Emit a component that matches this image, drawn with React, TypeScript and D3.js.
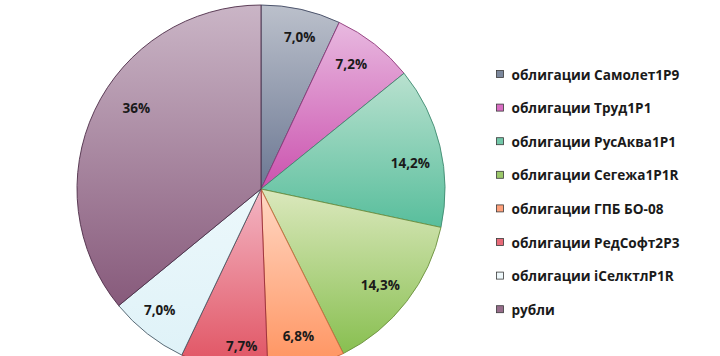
import React from "react";
import * as d3 from "d3";

const categories = [
  "облигации Самолет1Р9",
  "облигации Труд1Р1",
  "облигации РусАква1Р1",
  "облигации Сегежа1Р1R",
  "облигации ГПБ БО-08",
  "облигации РедСофт2Р3",
  "облигации iСелктлР1R",
  "рубли",
];
const values = [7.0, 7.2, 14.2, 14.3, 6.8, 7.7, 7.0, 36];
const valueLabels = ["7,0%", "7,2%", "14,2%", "14,3%", "6,8%", "7,7%", "7,0%", "36%"];

const topColors = ["#bbc0cb", "#e8b9e0", "#b9e1cf", "#dbe8bd", "#ffd8c5", "#f3b6c4", "#ecf8fb", "#cab5c6"];
const bottomColors = ["#6c7893", "#cb52ae", "#58be9c", "#88bf50", "#ff915c", "#e0505f", "#dff2f8", "#875a7b"];
const strokeColors = ["#3e4660", "#8e3a7a", "#3f8a70", "#6a8f3c", "#c8663a", "#9a2e3a", "#4a5a66", "#4e2e48"];
const legendColors = ["#7b879c", "#d86cc2", "#72c7a8", "#9cc86a", "#ffa07a", "#e76a78", "#eef8fb", "#966c8a"];
// label nudges (style only)
const labelNudgeX = [5, -5, -1, -3, -1, 12, -6, 15];
const labelNudgeY = [-1, -3, 10, 1, -3, 6, -1, -15];

export default function App() {
  const W = 720;
  const H = 356;
  const cx = 261;
  const cy = 189;
  const r = 184;

  const pie = d3.pie<number>().value((d) => d).sort(null);
  const arcs = pie(values);
  const arcGen = d3.arc<d3.PieArcDatum<number>>().innerRadius(0).outerRadius(r);
  const labelArc = d3.arc<d3.PieArcDatum<number>>().innerRadius(r * 0.84).outerRadius(r * 0.84);

  const legendX = 496.5;
  const legendY0 = 74;
  const legendStep = 33.6;

  return (
    <svg
      width={W}
      height={H}
      style={{ position: "absolute", left: 0, top: 0, display: "block", background: "#ffffff" }}
    >
      <defs>
        {categories.map((c, i) => (
          <linearGradient key={c} id={`g${i}`} x1="0" y1="0" x2="0" y2="1">
            <stop offset="0%" stopColor={topColors[i]} />
            <stop offset="100%" stopColor={bottomColors[i]} />
          </linearGradient>
        ))}
      </defs>
      <rect x={0} y={0} width={W} height={H} fill="#ffffff" />
      <g transform={`translate(${cx},${cy})`}>
        {arcs.map((a, i) => (
          <path
            key={categories[i]}
            d={arcGen(a) || ""}
            fill={`url(#g${i})`}
            stroke={strokeColors[i]}
            strokeWidth={0.9}
            strokeLinejoin="round"
          />
        ))}
        {arcs.map((a, i) => {
          const [x, y] = labelArc.centroid(a);
          return (
            <text
              key={"l" + i}
              x={x + labelNudgeX[i]}
              y={y + labelNudgeY[i]}
              textAnchor="middle"
              dominantBaseline="central"
              fontFamily="'Open Sans', 'DejaVu Sans', sans-serif"
              fontWeight={700}
              fontSize={13.5}
              fill="#1a1a1a"
            >
              {valueLabels[i]}
            </text>
          );
        })}
      </g>
      <g>
        {categories.map((t, i) => {
          const y = legendY0 + i * legendStep;
          return (
            <g key={"lg" + i}>
              <rect
                x={legendX}
                y={y - 3.5}
                width={7}
                height={7}
                fill={legendColors[i]}
                stroke="#3a3a3a"
                strokeWidth={0.8}
              />
              <text
                x={legendX + 15}
                y={y}
                dominantBaseline="central"
                fontFamily="'Open Sans', 'DejaVu Sans', sans-serif"
                fontWeight={700}
                fontSize={13.6}
                fill="#1a1a1a"
              >
                {t}
              </text>
            </g>
          );
        })}
      </g>
    </svg>
  );
}
